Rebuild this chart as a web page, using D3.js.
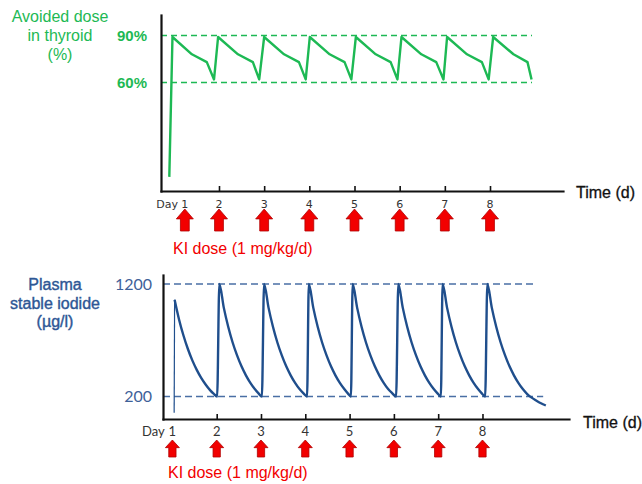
<!DOCTYPE html>
<html>
<head>
<meta charset="utf-8">
<script src="https://cdn.jsdelivr.net/npm/d3@7/dist/d3.min.js"></script>
<style>
	body { margin: 0; background: #fff; }
	svg { display: block; }
</style>
</head>
<body>
<div id="graph"></div>
<script>

// KI intake, one per day
const doseDays = [1, 2, 3, 4, 5, 6, 7, 8]
	, tickDays = [2, 3, 4, 5, 6, 7, 8]
	, avoidedRefs = [90, 60]
	, iodideRefs = [1200, 200]

// avoided dose in thyroid (%) : [day, value]
const avoidedDose = [
	[0.90, 0], [0.97, 89], [1.40, 78], [1.73, 73], [1.89, 62],
	[1.98, 89], [2.42, 78], [2.75, 73], [2.89, 62],
	[3.00, 89], [3.44, 78], [3.77, 73], [3.92, 62],
	[4.01, 89], [4.45, 78], [4.78, 73], [4.93, 62],
	[5.03, 89], [5.47, 78], [5.80, 73], [5.95, 62],
	[6.04, 89], [6.48, 78], [6.81, 73], [6.97, 62],
	[7.05, 89], [7.49, 78], [7.82, 73], [7.97, 62],
	[8.07, 89], [8.52, 78], [8.83, 73], [8.92, 62]
]

// first intake, thin rise
const plasmaRise = [[1.04, 55], [1.05, 1060]]

// plasma stable iodide (µg/l) : [day, value]
const plasmaIodide = [
	[1.05, 1060], [1.15, 885], [1.25, 742], [1.35, 622], [1.45, 521], [1.55, 437], [1.65, 366], [1.75, 307], [1.85, 257], [1.93, 225], [2.01, 200],
	[2.06, 1200], [2.16, 990], [2.26, 820], [2.36, 680], [2.46, 565], [2.56, 468], [2.66, 388], [2.76, 321], [2.86, 266], [2.94, 230], [3.02, 200],
	[3.07, 1200], [3.17, 990], [3.27, 820], [3.37, 680], [3.47, 565], [3.57, 468], [3.67, 388], [3.77, 321], [3.87, 266], [3.96, 228], [4.04, 200],
	[4.08, 1200], [4.18, 990], [4.28, 820], [4.38, 680], [4.48, 565], [4.58, 468], [4.68, 388], [4.78, 321], [4.88, 266], [4.96, 228], [5.03, 200],
	[5.07, 1200], [5.17, 990], [5.27, 820], [5.37, 680], [5.47, 565], [5.57, 468], [5.67, 388], [5.77, 321], [5.87, 266], [5.96, 230], [6.05, 200],
	[6.10, 1200], [6.20, 990], [6.30, 820], [6.40, 680], [6.50, 565], [6.60, 468], [6.70, 388], [6.80, 321], [6.90, 266], [6.98, 230], [7.06, 200],
	[7.10, 1200], [7.20, 990], [7.30, 820], [7.40, 680], [7.50, 565], [7.60, 468], [7.70, 388], [7.80, 321], [7.90, 266], [7.98, 230], [8.06, 200],
	[8.11, 1200], [8.21, 990], [8.31, 820], [8.41, 680], [8.51, 565], [8.61, 468], [8.71, 388], [8.81, 321], [8.91, 266], [9.01, 222], [9.11, 190], [9.21, 165], [9.32, 140], [9.43, 120]
]

const width = 642
	, height = 484
	, green = '#1db954'
	, blueLine = '#1f4e8c'
	, blueDash = '#4a6fa5'
	, blueText = '#2e5795'
	, red = '#f20000'
	, arial = 'Liberation Sans, Arial, sans-serif'

const svg = d3.select('#graph').append('svg')
	.attr('width', width)
	.attr('height', height)

svg.append('rect').attr('width', width).attr('height', height).attr('fill', '#fff')

/**
 * draw one panel (axes, reference lines, curve, day labels, dose arrows)
 */
function drawPanel(p) {

	let g = svg.append('g')
		, x = d3.scaleLinear().domain(p.xDomain).range(p.xRange)
		, y = d3.scaleLinear().domain(p.yDomain).range(p.yRange)
		, y0 = p.yRange[0]
		, x0 = p.xRange[0]

	// dashed reference lines
	g.selectAll('.ref')
		.data(p.refs)
		.join('line')
		  .attr('class', 'ref')
		  .attr('x1', x0)
		  .attr('x2', (d, i) => x(p.refEnd[i]))
		  .attr('y1', d => y(d))
		  .attr('y2', d => y(d))
		  .attr('stroke', p.dashColor)
		  .attr('stroke-width', 1.6)
		  .attr('stroke-dasharray', p.dash)

	g.selectAll('.refLabel')
		.data(p.refs)
		.join('text')
		  .attr('class', 'refLabel')
		  .attr('x', p.refLabelX)
		  .attr('y', d => y(d) + 5.5)
		  .attr('text-anchor', 'end')
		  .style('font-family', p.refFont)
		  .style('font-size', p.refSize)
		  .style('font-weight', p.refWeight)
		  .style('fill', p.refColor)
		  .text(d => d + p.refSuffix)

	// axes
	g.append('g')
		.attr('transform', 'translate(0,' + y0 + ')')
		.call(d3.axisBottom(x).tickValues(tickDays).tickSizeInner(-5).tickSizeOuter(0).tickFormat(''))
	g.append('g')
		.attr('transform', 'translate(' + x0 + ',0)')
		.call(d3.axisLeft(y).tickValues([]).tickSizeOuter(0))

	g.selectAll('.domain')
		.attr('stroke', '#111')
		.attr('stroke-width', 2.2)
		.attr('stroke-linecap', 'square')
	g.selectAll('.tick line')
		.attr('stroke', '#111')
		.attr('stroke-width', 1.6)

	// curves
	if (p.rise) {
		g.append('path')
			.attr('d', d3.line().x(d => x(d[0])).y(d => y(d[1]))(p.rise))
			.attr('fill', 'none')
			.attr('stroke', p.lineColor)
			.attr('stroke-width', 1.2)
	}

	g.append('path')
		.attr('d', d3.line().curve(p.curve).x(d => x(d[0])).y(d => y(d[1]))(p.series))
		.attr('fill', 'none')
		.attr('stroke', p.lineColor)
		.attr('stroke-width', 2.4)
		.attr('stroke-linejoin', 'round')

	// day labels
	let labelX = d => x(d) + (d === 1 ? p.firstShift : 0)

	let nums = g.selectAll('.dayNum')
		.data(doseDays)
		.join('text')
		  .attr('class', 'dayNum')
		  .attr('x', labelX)
		  .attr('y', p.labelY)
		  .attr('text-anchor', 'middle')
		  .style('font-family', p.labelFont)
		  .style('font-size', p.labelSize)
		  .style('fill', '#333')
		  .text(d => d)

	let digitW = nums.node().getComputedTextLength()
	g.append('text')
		.attr('x', labelX(1) - digitW / 2 - p.labelSize * 0.3)
		.attr('y', p.labelY)
		.attr('text-anchor', 'end')
		.style('font-family', p.labelFont)
		.style('font-size', p.labelSize)
		.style('fill', '#333')
		.text('Day')

	// dose arrows
	let aw = p.arrow[0], ah = p.arrow[1], top = p.arrowTop
		, hh = ah * 0.45, sw = aw * 0.52

	g.selectAll('.arrow')
		.data(doseDays)
		.join('path')
		  .attr('class', 'arrow')
		  .attr('d', d => {
			let cx = labelX(d)
			return 'M' + cx + ',' + top
				+ 'L' + (cx + aw / 2) + ',' + (top + hh)
				+ 'L' + (cx + sw / 2) + ',' + (top + hh)
				+ 'L' + (cx + sw / 2) + ',' + (top + ah)
				+ 'L' + (cx - sw / 2) + ',' + (top + ah)
				+ 'L' + (cx - sw / 2) + ',' + (top + hh)
				+ 'L' + (cx - aw / 2) + ',' + (top + hh) + 'Z'
		  })
		  .attr('fill', red)
		  .attr('stroke', '#b00000')
		  .attr('stroke-width', 0.8)

	g.append('text')
		.attr('x', p.kiX)
		.attr('y', p.kiY)
		.style('font-family', arial)
		.style('font-size', 16)
		.style('fill', red)
		.text('KI dose (1 mg/kg/d)')

	g.append('text')
		.attr('x', p.timeX)
		.attr('y', p.timeY)
		.style('font-family', arial)
		.style('font-size', 16)
		.style('fill', '#111')
		.style('stroke', '#111')
		.style('stroke-width', 0.3)
		.text('Time (d)')

	// y title
	g.append('text')
		.attr('text-anchor', 'middle')
		.style('font-family', arial)
		.style('font-size', 16)
		.style('fill', p.titleColor)
		.style('stroke', p.titleColor)
		.style('stroke-width', p.titleStroke)
		.selectAll('tspan')
		.data(p.title)
		.join('tspan')
		  .attr('x', p.titleX)
		  .attr('y', (d, i) => p.titleY + i * p.titleStep)
		  .text(d => d)
}

drawPanel({
	xDomain: [0.716, 9.616], xRange: [161, 563]
	, yDomain: [-9, 103], yRange: [191, 15]
	, refs: avoidedRefs, refEnd: [8.93, 8.93], dash: '6,4', dashColor: green
	, refLabelX: 147, refFont: arial, refSize: 15, refWeight: 'bold', refColor: green, refSuffix: '%'
	, series: avoidedDose, curve: d3.curveLinear, lineColor: green
	, firstShift: 11, labelY: 208, labelFont: 'DejaVu Sans, Verdana, sans-serif', labelSize: 11
	, arrow: [17, 22], arrowTop: 209
	, kiX: 173, kiY: 254
	, timeX: 576, timeY: 198
	, title: ['Avoided dose', 'in thyroid', '(%)'], titleX: 60, titleY: 22, titleStep: 19
	, titleColor: green, titleStroke: 0
})

drawPanel({
	xDomain: [0.788, 9.953], xRange: [163, 569]
	, yDomain: [0, 1280], yRange: [419, 275]
	, refs: iodideRefs, refEnd: [9.19, 9.37], dash: '7,4', dashColor: blueDash
	, refLabelX: 152, refFont: 'Lato, sans-serif', refSize: 16, refWeight: 'normal', refColor: '#3e6199', refSuffix: ''
	, series: plasmaIodide, rise: plasmaRise, curve: d3.curveMonotoneX, lineColor: blueLine
	, firstShift: 0, labelY: 436, labelFont: 'Lato, sans-serif', labelSize: 13
	, arrow: [14, 17], arrowTop: 440
	, kiX: 168, kiY: 478
	, timeX: 583, timeY: 428
	, title: ['Plasma', 'stable iodide', '(µg/l)'], titleX: 55, titleY: 290, titleStep: 18.5
	, titleColor: blueText, titleStroke: 0.4
})

</script>
</body>
</html>
